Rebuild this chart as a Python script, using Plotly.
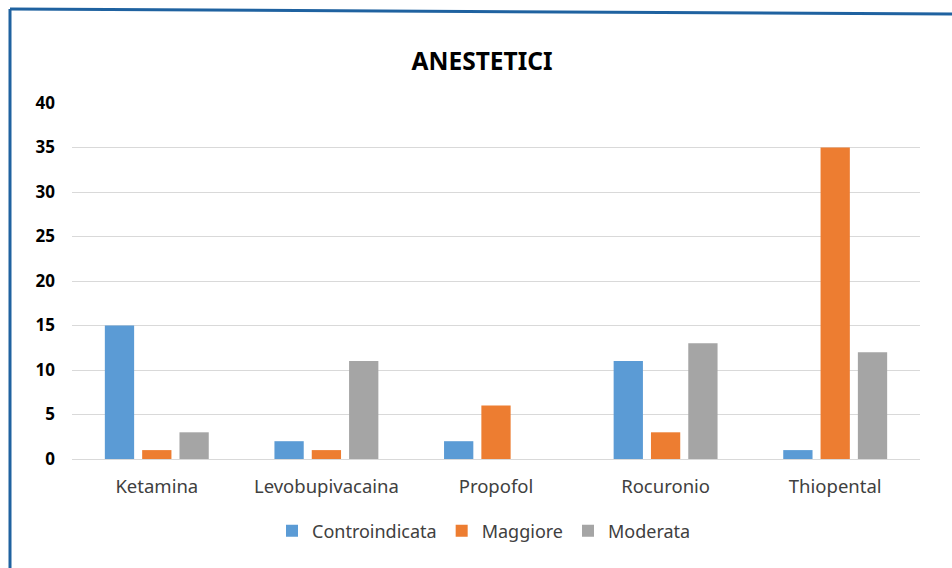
import plotly.graph_objects as go

categories = ["Ketamina", "Levobupivacaina", "Propofol", "Rocuronio", "Thiopental"]
controindicata = [15, 2, 2, 11, 1]
maggiore = [1, 1, 6, 3, 35]
moderata = [3, 11, 0, 13, 12]
series_names = ["Controindicata", "Maggiore", "Moderata"]
series_colors = ["#5B9BD5", "#ED7D31", "#A5A5A5"]
y_ticks = [0, 5, 10, 15, 20, 25, 30, 35, 40]

W, H = 952, 568
FONT = "Noto Sans"
PL, PR, PT, PB = 72, 920, 103, 459
PW, PH = PR - PL, PB - PT

fig = go.Figure()
for name, vals, col in zip(series_names, [controindicata, maggiore, moderata], series_colors):
    fig.add_trace(go.Bar(x=categories, y=vals, name=name, marker=dict(color=col, line=dict(width=0))))

fig.update_layout(
    width=W, height=H,
    paper_bgcolor="white", plot_bgcolor="white",
    margin=dict(l=PL, r=W - PR, t=PT, b=H - PB, autoexpand=False),
    barmode="group", bargap=0.34, bargroupgap=0.215,
    title=dict(text="<b>ANESTETICI</b>", x=482 / W, xanchor="center", y=1 - 61 / H, yanchor="middle",
               font=dict(family=FONT, size=24.5, color="#000000")),
    font=dict(family=FONT, color="#404040"),
    legend=dict(orientation="h", x=(484 - PL) / PW, xanchor="center", y=-(531 - PB) / PH, yanchor="middle",
                font=dict(family=FONT, size=18, color="#404040"), itemwidth=30, traceorder="normal"),
    showlegend=True,
)
fig.update_xaxes(showgrid=False, showline=True, linecolor="#D9D9D9", linewidth=1, ticks="",
                 tickfont=dict(family=FONT, size=18.5, color="#404040"), ticklabelstandoff=11)
fig.update_yaxes(range=[0, 40], tickvals=y_ticks, showgrid=True, gridcolor="#D9D9D9", gridwidth=1,
                 zeroline=False, showline=False, ticks="",
                 tickfont=dict(family=FONT, size=17, color="#000000", weight="bold"), ticklabelstandoff=16)

# chart frame border
fx = (10 - PL) / PW
fig.add_shape(type="line", xref="paper", yref="paper", x0=fx, x1=(W - PL + 2) / PW,
              y0=1 + (PT - 9) / PH, y1=1 + (PT - 14) / PH, line=dict(color="#1F62A0", width=3))
fig.add_shape(type="line", xref="paper", yref="paper", x0=fx, x1=fx,
              y0=1 + (PT - 9) / PH, y1=-(H - PB + 5) / PH, line=dict(color="#1F62A0", width=3))

fig.write_html("out.html")
